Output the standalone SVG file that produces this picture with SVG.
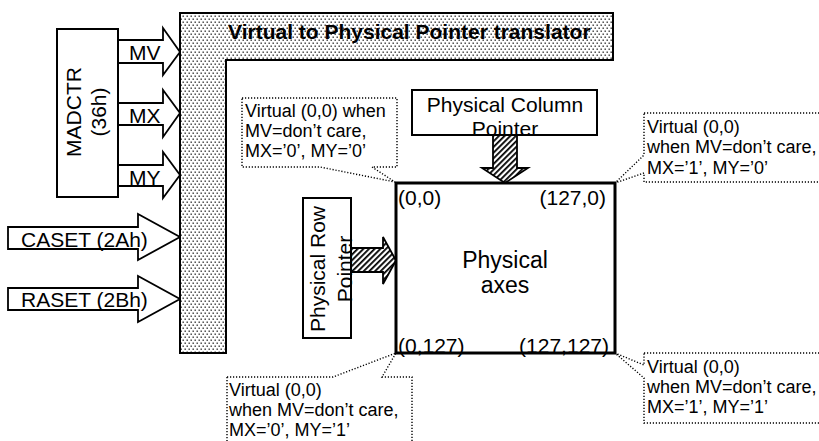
<svg xmlns="http://www.w3.org/2000/svg" width="819" height="441" viewBox="0 0 819 441">
<defs>
<pattern id="dots" width="4" height="6" patternUnits="userSpaceOnUse">
<rect width="4" height="6" fill="#fff"/>
<rect x="0.5" y="0.5" width="1.4" height="1.4" fill="#333"/>
<rect x="2.5" y="3.5" width="1.4" height="1.4" fill="#333"/>
</pattern>
<pattern id="hatch" width="4" height="4" patternUnits="userSpaceOnUse" patternTransform="rotate(45)">
<rect width="4" height="4" fill="#fff"/>
<rect width="1.8" height="4" fill="#000"/>
</pattern>
<style>
text{font-family:"Liberation Sans",Arial,sans-serif;fill:#000}
.t21{font-size:21px}
.t18{font-size:18px}
.t23{font-size:23px}
.bold{font-weight:bold}
.box{fill:#fff;stroke:#000;stroke-width:2}
.arrow{fill:#fff;stroke:#000;stroke-width:1.8;stroke-linejoin:miter}
.harrow{fill:url(#hatch);stroke:#000;stroke-width:1.8}
.callout{fill:none;stroke:#000;stroke-width:1.4;stroke-dasharray:1.2 1.8}
</style>
</defs>
<rect width="819" height="441" fill="#fff"/>

<g id="connectors">
<path class="arrow" d="M118,40 H163 V28 L180,52 L163,75 V63 H118 Z"/>
<path class="arrow" d="M118,103 H163 V90 L180,113 L163,137 V125 H118 Z"/>
<path class="arrow" d="M118,165 H163 V152 L180,175 L163,198 V186 H118 Z"/>
<path class="arrow" d="M8,227 H138 V214 L180,237 L138,260 V249 H8 Z"/>
<path class="arrow" d="M8,288 H138 V276 L180,299 L138,322 V310 H8 Z"/>
<path class="harrow" d="M493,135 H517 V168 H528 L505,183 L482,168 H493 Z"/>
<path class="harrow" d="M348,248 H383 V237 L396,260.5 L383,284 V272 H348 Z"/>
</g>

<g id="translator">
<path d="M180,13 H613 V60 H226 V353 H180 Z" fill="url(#dots)" stroke="#000" stroke-width="2"/>
<text class="t21 bold" x="228" y="39">Virtual to Physical Pointer translator</text>
</g>

<g id="madctr">
<rect class="box" x="57" y="29" width="61" height="168"/>
<text class="t21" text-anchor="middle" transform="translate(81,112) rotate(-90)">MADCTR</text>
<text class="t21" text-anchor="middle" transform="translate(106,112) rotate(-90)">(36h)</text>
</g>

<g id="labels">
<text class="t21" x="129" y="60">MV</text>
<text class="t21" x="129" y="123">MX</text>
<text class="t21" x="129" y="185">MY</text>
<text class="t21" x="21" y="246.5">CASET (2Ah)</text>
<text class="t21" x="21" y="307">RASET (2Bh)</text>
</g>

<g id="column-pointer">
<rect class="box" x="412" y="90" width="185" height="45"/>
<text class="t21" x="505" y="112" text-anchor="middle">Physical Column</text>
<text class="t21" x="505" y="136" text-anchor="middle">Pointer</text>
</g>

<g id="row-pointer">
<rect class="box" x="303" y="198" width="48" height="140"/>
<text class="t21" text-anchor="middle" transform="translate(325,269) rotate(-90)">Physical Row</text>
<text class="t21" text-anchor="middle" transform="translate(352,269) rotate(-90)">Pointer</text>
</g>

<g id="physical-axes">
<rect x="396" y="183" width="219" height="170" fill="none" stroke="#000" stroke-width="3"/>
<text class="t23" x="505" y="268" text-anchor="middle">Physical</text>
<text class="t23" x="505" y="293" text-anchor="middle">axes</text>
<text class="t21" x="398" y="205">(0,0)</text>
<text class="t21" x="606" y="205" text-anchor="end">(127,0)</text>
<text class="t21" x="398" y="353">(0,127)</text>
<text class="t21" x="609" y="353" text-anchor="end">(127,127)</text>
</g>

<g id="callout-tl">
<path class="callout" d="M242,98 H397 V167 H372 L395,182 L320,167 H242 Z"/>
<text class="t18" x="245" y="117">Virtual (0,0) when</text>
<text class="t18" x="245" y="137">MV=don’t care,</text>
<text class="t18" x="245" y="157">MX=’0’, MY=’0’</text>
</g>

<g id="callout-tr">
<path class="callout" d="M644,113 H830 V182 H644 V173 L615,183 L644,155 Z"/>
<text class="t18" x="647" y="133">Virtual (0,0)</text>
<text class="t18" x="647" y="153">when MV=don’t care,</text>
<text class="t18" x="647" y="174">MX=’1’, MY=’0’</text>
</g>

<g id="callout-br">
<path class="callout" d="M644,353 H830 V423 H644 V378 L615,353 L644,365 Z"/>
<text class="t18" x="647" y="373">Virtual (0,0)</text>
<text class="t18" x="647" y="393">when MV=don’t care,</text>
<text class="t18" x="647" y="413">MX=’1’, MY=’1’</text>
</g>

<g id="callout-bl">
<path class="callout" d="M227,377 H333 L396,353 L382,377 H412 V450 H227 Z"/>
<text class="t18" x="229" y="396">Virtual (0,0)</text>
<text class="t18" x="229" y="416">when MV=don’t care,</text>
<text class="t18" x="229" y="436">MX=’0’, MY=’1’</text>
</g>
</svg>
